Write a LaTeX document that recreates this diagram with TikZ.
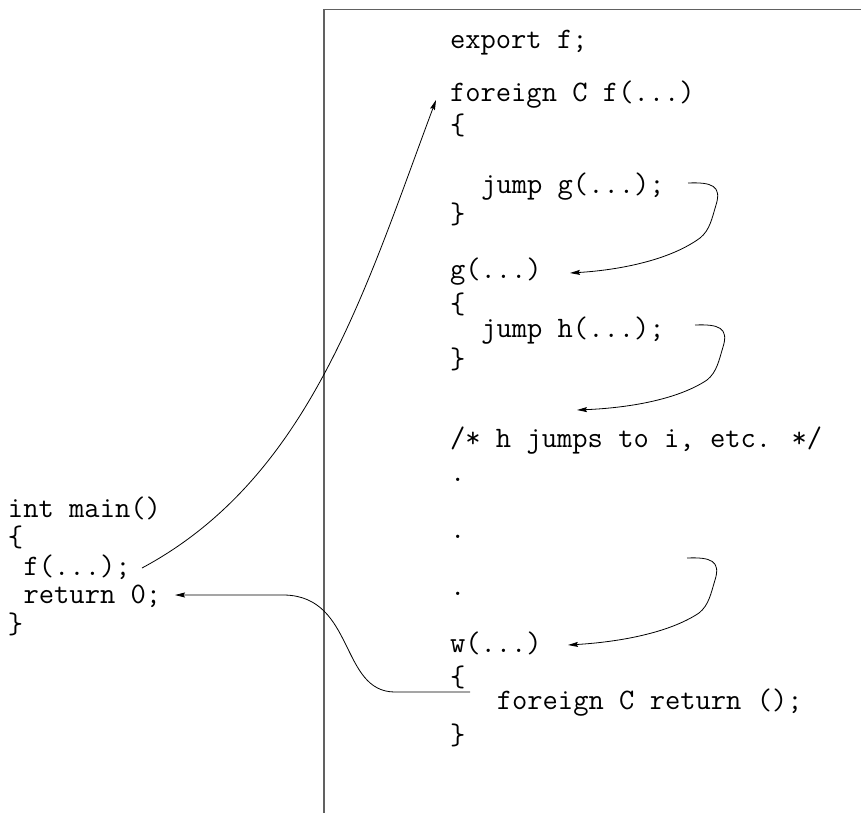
\documentclass[tikz,border=0pt]{standalone}
\usepackage{fontspec}
\usetikzlibrary{arrows.meta}
\begin{document}
\begin{tikzpicture}[x=1pt,y=-1pt,
  code/.style={anchor=base west,inner sep=0pt,outer sep=0pt,font=\ttfamily\fontsize{29.7}{30}\selectfont},
  brace/.style={code},
  flow/.style={line width=0.8pt,-{Stealth[length=10pt,width=5pt,inset=1.5pt]}},
  frame/.style={draw=black!62,line width=1.1pt}]
\useasboundingbox (0,0) rectangle (861,812);
% frame of the right-hand module
\draw[frame] (866,9.5) -- (324,9.5) -- (324,818);
% left column: C main
\node[code]  (main)  at (8,517) {int main()};
\node[brace] (mlb)   at (8,546) {\{};
\node[code]  (fcall) at (23.6,575) {f(...);};
\node[code]  (ret)   at (23.6,603) {return 0;};
\node[brace] (mrb)   at (8,633) {\}};
% right column: C-- module
\node[code]  (export) at (450,48) {export f;};
\node[code]  (ff)     at (450,101) {foreign C f(...)};
\node[brace] (flb)    at (450,134) {\{};
\node[code]  (jg)     at (481.2,193) {jump g(...);};
\node[brace] (frb)    at (450,223) {\}};
\node[code]  (g)      at (450,278) {g(...)};
\node[brace] (glb)    at (450,313) {\{};
\node[code]  (jh)     at (481.2,337) {jump h(...);};
\node[brace] (grb)    at (450,368) {\}};
\node[code]  (cmt)    at (450,447) {/* h jumps to i, etc. */};
\node[code]  (d1)     at (450,481) {.};
\node[code]  (d2)     at (450,538) {.};
\node[code]  (d3)     at (450,595) {.};
\node[code]  (w)      at (450,652) {w(...)};
\node[brace] (wlb)    at (450,686) {\{};
\node[code]  (fret)   at (496.8,709) {foreign C return ();};
\node[brace] (wrb)    at (450,744) {\}};
% connector end points
\coordinate (fs) at (142,568);
\coordinate (fe) at (436,100);
\coordinate (g1s) at (688,183);
\coordinate (g1e) at (570,273);
\coordinate (h1s) at (695,325);
\coordinate (h1e) at (577,410);
\coordinate (w1s) at (687,558);
\coordinate (w1e) at (568,645);
\coordinate (rs) at (470,692);
\coordinate (re) at (175,595);
% call of f from main
\draw[flow] (fs) .. controls (310,478) and (365,290) .. (fe);
% jumps
\draw[flow] (g1s) .. controls (712,182) and (722,186) .. (716,205)
  .. controls (712,218) and (710,230) .. (700,238)
  .. controls (670,260) and (620,270) .. (g1e);
\draw[flow] (h1s) .. controls (719,324) and (729,328) .. (723,347)
  .. controls (719,360) and (717,372) .. (707,380)
  .. controls (677,400) and (627,408) .. (h1e);
\draw[flow] (w1s) .. controls (711,557) and (721,561) .. (715,580)
  .. controls (711,593) and (709,605) .. (699,613)
  .. controls (669,633) and (619,642) .. (w1e);
% return to main
\draw[flow] (rs) -- (395,692) .. controls (340,692) and (355,597) .. (285,595) -- (re);
\end{tikzpicture}
\end{document}
